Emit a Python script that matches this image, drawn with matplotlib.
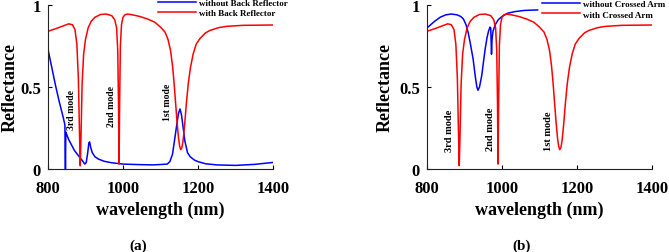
import matplotlib
matplotlib.use("Agg")
import matplotlib.pyplot as plt

plt.rcParams['font.family'] = ['Liberation Serif', 'DejaVu Serif']
plt.rcParams['font.weight'] = 'bold'

# with back reflector / with crossed arm (same structure in both panels)
red_wl = [800, 820, 840, 855, 865, 872, 877, 881, 884, 886, 888, 891, 895,
          900, 907, 915, 925, 940, 955, 970, 978, 983, 986, 988, 989.5, 991,
          993, 996, 1000, 1005, 1012, 1025, 1045, 1065, 1085, 1100, 1112,
          1120, 1127, 1132, 1136, 1140, 1144, 1148, 1151, 1154, 1157, 1160,
          1164, 1169, 1174, 1180, 1187, 1195, 1205, 1220, 1232, 1255, 1277,
          1320, 1400]
red_r = [0.84, 0.855, 0.872, 0.885, 0.88, 0.85, 0.76, 0.55, 0.22, 0.02, 0.2,
         0.52, 0.70, 0.79, 0.86, 0.90, 0.925, 0.942, 0.945, 0.935, 0.91, 0.86,
         0.72, 0.40, 0.03, 0.40, 0.75, 0.88, 0.925, 0.94, 0.945, 0.94, 0.93,
         0.915, 0.895, 0.865, 0.835, 0.79, 0.72, 0.63, 0.53, 0.41, 0.29, 0.19,
         0.14, 0.118, 0.13, 0.17, 0.26, 0.40, 0.52, 0.62, 0.70, 0.76, 0.795,
         0.83, 0.845, 0.862, 0.87, 0.876, 0.878]

# (a) without back reflector
blue_a_wl = [800, 810, 820, 830, 840, 845, 846.5, 847.5, 850, 855, 862, 870,
             878, 885, 892, 898, 902, 906, 909, 911, 914, 918, 925, 935, 950,
             970, 1000, 1040, 1080, 1105, 1118, 1125, 1132, 1139, 1144, 1148,
             1152, 1156, 1160, 1165, 1172, 1179, 1190, 1200, 1220, 1250, 1300,
             1350, 1400]
blue_a_r = [0.73, 0.62, 0.51, 0.41, 0.32, 0.27, 0.0, 0.225, 0.21, 0.18, 0.15,
            0.115, 0.09, 0.07, 0.05, 0.03, 0.04, 0.10, 0.16, 0.165, 0.13, 0.10,
            0.075, 0.06, 0.047, 0.038, 0.03, 0.027, 0.025, 0.028, 0.03, 0.045,
            0.09, 0.20, 0.28, 0.34, 0.366, 0.33, 0.26, 0.17, 0.10, 0.075,
            0.055, 0.045, 0.032, 0.025, 0.022, 0.028, 0.04]

# (b) without crossed arm
blue_b_wl = [800, 820, 835, 850, 865, 880, 890, 897, 904, 910, 916, 923, 929,
             933, 936, 940, 946, 951, 955, 960, 964, 968, 970, 971, 972, 973.5,
             976, 982, 990, 1000, 1015, 1035, 1060, 1095]
blue_b_r = [0.86, 0.90, 0.925, 0.94, 0.945, 0.94, 0.93, 0.915, 0.88, 0.83,
            0.76, 0.67, 0.56, 0.50, 0.48, 0.50, 0.57, 0.66, 0.73, 0.80, 0.84,
            0.865, 0.86, 0.78, 0.70, 0.79, 0.84, 0.88, 0.91, 0.93, 0.95, 0.96,
            0.967, 0.97]

xticks = [800, 1000, 1200, 1400]
yticks = [0, 0.5, 1]
ytick_labels = ['0', '0.5', '1']

modes_a = [(863, 0.366, '3rd mode'), (970, 0.387, '2nd mode'),
           (1119, 0.41, '1st mode')]
modes_b = [(860, 0.238, '3rd mode'), (969, 0.25, '2nd mode'),
           (1123, 0.235, '1st mode')]

fig = plt.figure(figsize=(6.69, 2.53), dpi=100)
ax_a = fig.add_axes([48 / 669, 83 / 253, 225 / 669, 164 / 253])
ax_b = fig.add_axes([427 / 669, 83 / 253, 225 / 669, 164 / 253])


def style_axes(ax, ylab_x):
    ax.set_xlim(800, 1400)
    ax.set_ylim(0, 1)
    ax.set_xticks(xticks)
    ax.set_yticks(yticks)
    ax.set_yticklabels(ytick_labels)
    for s in ['top', 'right']:
        ax.spines[s].set_visible(False)
    for s in ['left', 'bottom']:
        ax.spines[s].set_linewidth(0.8)
        ax.spines[s].set_color('#222222')
    ax.tick_params(direction='in', length=3, width=0.8, labelsize=12)
    ax.tick_params(axis='x', pad=8)
    ax.tick_params(axis='y', pad=5)
    ax.set_xlabel('wavelength (nm)', fontsize=13, fontweight='bold', labelpad=3)
    ax.set_ylabel('Reflectance', fontsize=13, fontweight='bold', va='center')
    ax.yaxis.set_label_coords(ylab_x, 0.5)


# (a)
ax_a.plot(blue_a_wl, blue_a_r, color='#0000ff', lw=1.1,
          label='without Back Reflector')
ax_a.plot(red_wl, red_r, color='#ff0000', lw=1.1, label='with Back Reflector')
style_axes(ax_a, -0.17)
for x, y, t in modes_a:
    ax_a.text(x, y, t, rotation=90, ha='center', va='center', fontsize=7,
              fontweight='bold')
ax_a.legend(loc='upper left', bbox_to_anchor=(0.489, 1.037), frameon=False,
            fontsize=6.5, handlelength=4.2, handletextpad=0.3,
            labelspacing=0.2, borderpad=0, borderaxespad=0)

# (b)
ax_b.plot(blue_b_wl, blue_b_r, color='#0000ff', lw=1.1,
          label='without Crossed Arm')
ax_b.plot(red_wl, red_r, color='#ff0000', lw=1.1, label='with Crossed Arm')
style_axes(ax_b, -0.187)
for x, y, t in modes_b:
    ax_b.text(x, y, t, rotation=90, ha='center', va='center', fontsize=7.5,
              fontweight='bold')
ax_b.legend(loc='upper left', bbox_to_anchor=(0.511, 1.03), frameon=False,
            fontsize=6.5, handlelength=4.2, handletextpad=0.3,
            labelspacing=0.2, borderpad=0, borderaxespad=0)

fig.text(138 / 669, 1 - 246 / 253, '(a)', ha='center', va='center',
         fontsize=11, fontweight='bold')
fig.text(522 / 669, 1 - 246 / 253, '(b)', ha='center', va='center',
         fontsize=11, fontweight='bold')

fig.savefig('out.png', dpi=100)
